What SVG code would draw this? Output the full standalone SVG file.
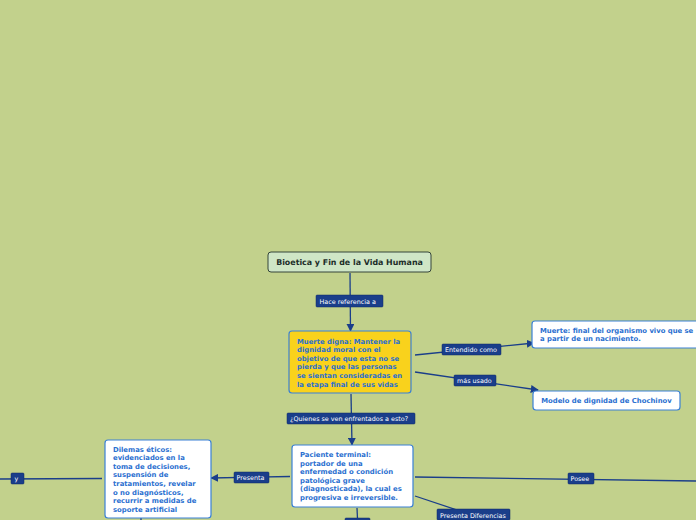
<svg xmlns="http://www.w3.org/2000/svg" width="696" height="520" viewBox="0 0 696 520">
<defs>
<marker id="arr" viewBox="0 0 10 10" refX="9" refY="5" markerWidth="8" markerHeight="8" markerUnits="userSpaceOnUse" orient="auto">
<path d="M0,0 L10,5 L0,10 z" fill="#1a3e8a"/>
</marker>
<style>
.bg{fill:#c2d18c}
.ln{stroke:#1a3e8a;stroke-width:1.3;fill:none}
.lb{fill:#1a3e8a;stroke:#0f2b66;stroke-width:0.5}
.lt{font-family:"DejaVu Sans",Verdana,sans-serif;font-size:6.4px;fill:#ffffff}
.nd{fill:#ffffff;stroke:#3a80d6;stroke-width:1.2}
.nt{font-family:"DejaVu Sans",Verdana,sans-serif;font-size:6.85px;font-weight:bold;fill:#2a6fd0}
</style>
</defs>
<rect class="bg" x="0" y="0" width="696" height="520"/>
<g id="connectors">
<line class="ln" x1="350" y1="273" x2="350.5" y2="331" marker-end="url(#arr)"/>
<rect class="lb" x="316" y="295" width="67" height="12" rx="1"/>
<text class="lt" x="319.5" y="303.5">Hace referencia a</text>
<line class="ln" x1="351" y1="394" x2="352" y2="445" marker-end="url(#arr)"/>
<rect class="lb" x="287" y="413" width="128" height="11" rx="1"/>
<text class="lt" x="290" y="421">¿Quienes se ven enfrentados a esto?</text>
<line class="ln" x1="415" y1="355" x2="534" y2="343" marker-end="url(#arr)"/>
<rect class="lb" x="442" y="344" width="59" height="11" rx="1"/>
<text class="lt" x="445" y="352">Entendido como</text>
<line class="ln" x1="415" y1="372" x2="538" y2="390" marker-end="url(#arr)"/>
<rect class="lb" x="454" y="375" width="42" height="11" rx="1"/>
<text class="lt" x="457" y="383">más usado</text>
<line class="ln" x1="290" y1="476.5" x2="211" y2="478" marker-end="url(#arr)"/>
<rect class="lb" x="234" y="472" width="35" height="11" rx="1"/>
<text class="lt" x="236.5" y="480">Presenta</text>
<line class="ln" x1="102" y1="478.5" x2="0" y2="479"/>
<rect class="lb" x="11" y="473" width="13" height="11" rx="1"/>
<text class="lt" x="14.5" y="481">y</text>
<line class="ln" x1="141" y1="518" x2="141" y2="520"/>
<line class="ln" x1="415" y1="477" x2="696" y2="481"/>
<rect class="lb" x="568" y="473" width="26" height="11" rx="1"/>
<text class="lt" x="570.5" y="481">Posee</text>
<line class="ln" x1="415" y1="496" x2="460" y2="511"/>
<rect class="lb" x="437" y="509" width="73" height="11" rx="1"/>
<text class="lt" x="440" y="517.5">Presenta Diferencias</text>
<line class="ln" x1="357" y1="508" x2="357.5" y2="519"/>
<rect class="lb" x="345" y="518" width="25" height="4" rx="1"/>
</g>
<g id="root">
<rect x="268" y="252" width="163" height="20" rx="3" fill="#cfe6c6" stroke="#34453a" stroke-width="1"/>
<text x="349.5" y="265" text-anchor="middle" font-family="'DejaVu Sans',Verdana,sans-serif" font-size="7.9" font-weight="bold" fill="#1d2e2a">Bioetica y Fin de la Vida Humana</text>
</g>
<g id="muerte-digna">
<rect x="289" y="331" width="122" height="62" rx="3" fill="#f9d21c" stroke="#3a80d6" stroke-width="1.2"/>
<text class="nt"><tspan x="297" y="343.5">Muerte digna: Mantener la</tspan><tspan x="297" y="352.1">dignidad moral con el</tspan><tspan x="297" y="360.7">objetivo de que esta no se</tspan><tspan x="297" y="369.3">pierda y que las personas</tspan><tspan x="297" y="377.9">se sientan consideradas en</tspan><tspan x="297" y="386.5">la etapa final de sus vidas</tspan></text>
</g>
<g id="muerte">
<rect class="nd" x="532" y="321" width="170" height="27" rx="3"/>
<text class="nt"><tspan x="540" y="332.5">Muerte: final del organismo vivo que se</tspan><tspan x="540" y="341">a partir de un nacimiento.</tspan></text>
</g>
<g id="chochinov">
<rect class="nd" x="533" y="391" width="147" height="19" rx="3"/>
<text class="nt" x="606.5" y="403" text-anchor="middle">Modelo de dignidad de Chochinov</text>
</g>
<g id="paciente">
<rect class="nd" x="292" y="445" width="121" height="62" rx="3"/>
<text class="nt"><tspan x="300" y="457">Paciente terminal:</tspan><tspan x="300" y="465.6">portador de una</tspan><tspan x="300" y="474.2">enfermedad o condición</tspan><tspan x="300" y="482.8">patológica grave</tspan><tspan x="300" y="491.4">(diagnosticada), la cual es</tspan><tspan x="300" y="500">progresiva e irreversible.</tspan></text>
</g>
<g id="dilemas">
<rect class="nd" x="105" y="440" width="106" height="78" rx="3"/>
<text class="nt"><tspan x="113" y="451.5">Dilemas éticos:</tspan><tspan x="113" y="460.1">evidenciados en la</tspan><tspan x="113" y="468.7">toma de decisiones,</tspan><tspan x="113" y="477.3">suspensión de</tspan><tspan x="113" y="485.9">tratamientos, revelar</tspan><tspan x="113" y="494.5">o no diagnósticos,</tspan><tspan x="113" y="503.1">recurrir a medidas de</tspan><tspan x="113" y="511.7">soporte artificial</tspan></text>
</g>
</svg>
